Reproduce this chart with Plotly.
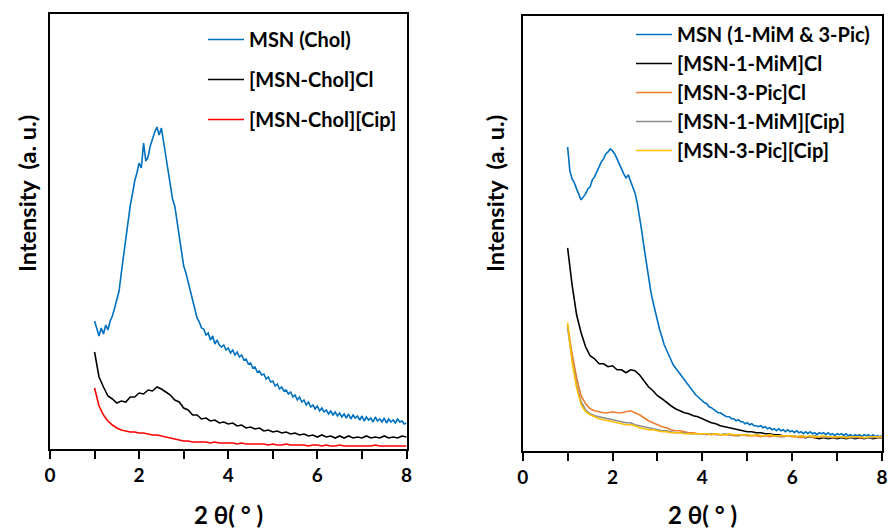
import numpy as np
import plotly.graph_objects as go

# ---------------- data (intensity in arbitrary units) ----------------
# Left panel, 0.05 step from 2θ = 1.00
msn_chol = [
    128, 119, 113, 121, 115, 124, 119, 128, 133, 141,
    149, 158, 176, 193, 214, 228, 243, 255, 268, 276,
    286, 281, 306, 288, 292, 303, 311, 317, 322, 314,
    321, 306, 293, 276, 262, 250, 243, 229, 214, 199,
    183, 176, 166, 159, 149, 140, 131, 127, 121, 120,
    114, 116, 109, 113, 105, 109, 104, 102, 104, 99,
    101, 96, 99, 94, 97, 92, 94, 89, 90, 85,
    86, 81, 82, 77, 78, 74, 75, 70, 72, 67,
    68, 63, 65, 60, 62, 58, 59, 55, 57, 52,
    54, 49, 52, 47, 49, 44, 47, 42, 44, 40,
    43, 38, 41, 37, 39, 35, 38, 34, 37, 33,
    36, 32, 35, 31, 35, 30, 34, 31, 33, 29,
    33, 28, 32, 29, 31, 27, 32, 28, 30, 27,
    31, 26, 30, 27, 29, 26, 30, 27, 28, 25,
    26,
]
# Left panel, 0.1 step from 2θ = 1.0
msn_chol_cl = [
    97, 72, 62, 53, 50, 46, 48, 47, 52, 52,
    56, 55, 59, 58, 62, 60, 57, 54, 49, 47,
    41, 39, 34, 34, 30, 31, 28, 29, 26, 27,
    25, 26, 23, 24, 21, 22, 20, 21, 18, 19,
    17, 18, 16, 17, 15, 16, 14, 15, 13, 14,
    12, 14, 12, 13, 11, 13, 11, 13, 11, 12,
    11, 13, 11, 12, 11, 13, 11, 12, 11, 13,
    12,
]
msn_chol_cip = [
    61, 43, 34, 28, 24, 21, 19, 18, 17, 17,
    16, 16, 15, 14, 14, 13, 12, 11, 10, 9,
    8, 8, 7, 7, 7, 7, 6, 7, 6, 6,
    6, 6, 5, 6, 5, 5, 5, 5, 5, 4,
    5, 4, 4, 5, 4, 4, 4, 4, 3, 4,
    4, 3, 4, 3, 3, 4, 3, 3, 3, 3,
    3, 3, 3, 4, 3, 3, 3, 3, 3, 3,
    3,
]
# Right panel, 0.05 step from 2θ = 1.00
msn_mim_pic = [
    304, 280, 272, 268, 262, 257, 251, 254, 257, 262,
    264, 271, 274, 279, 284, 289, 292, 297, 299, 302,
    300, 297, 292, 286, 282, 277, 273, 276, 270, 266,
    258, 248, 236, 220, 204, 188, 175, 160, 149, 139,
    131, 121, 114, 106, 101, 95, 91, 86, 83, 79,
    77, 73, 71, 67, 65, 61, 59, 56, 54, 52,
    50, 48, 47, 44, 43, 41, 40, 38, 38, 36,
    35, 34, 34, 32, 32, 30, 31, 29, 29, 27,
    28, 26, 27, 25, 25, 24, 25, 23, 24, 22,
    23, 21, 22, 20, 22, 20, 21, 19, 21, 19,
    20, 18, 20, 18, 19, 17, 19, 17, 19, 17,
    18, 16, 18, 17, 18, 16, 18, 16, 17, 15,
    17, 16, 17, 15, 17, 15, 16, 14, 16, 15,
    16, 14, 16, 15, 16, 14, 16, 14, 15, 14,
    15,
]
# Right panel, 0.1 step from 2θ = 1.0
msn_mim_cl = [
    203, 166, 136, 118, 104, 95, 92, 87, 87, 84,
    85, 81, 81, 78, 81, 80, 76, 70, 64, 60,
    55, 52, 48, 45, 42, 40, 38, 37, 35, 34,
    32, 30, 28, 27, 25, 24, 23, 22, 21, 20,
    19, 19, 18, 18, 17, 17, 16, 16, 15, 15,
    15, 14, 14, 13, 14, 13, 12, 13, 12, 13,
    12, 13, 12, 13, 12, 13, 12, 13, 12, 13,
    13,
]
msn_pic_cl = [
    126, 97, 73, 55, 47, 42, 40, 39, 38, 38,
    39, 38, 38, 39, 40, 38, 36, 33, 30, 28,
    26, 24, 23, 21, 20, 20, 19, 18, 18, 17,
    17, 17, 16, 17, 16, 16, 16, 15, 15, 16,
    15, 15, 15, 14, 15, 14, 15, 14, 14, 15,
    14, 14, 13, 14, 14, 13, 14, 13, 14, 13,
    13, 14, 13, 13, 14, 13, 13, 13, 14, 13,
    13,
]
msn_mim_cip = [
    123, 91, 66, 49, 41, 37, 35, 34, 33, 32,
    31, 30, 29, 28, 28, 26, 25, 24, 23, 22,
    21, 20, 20, 19, 18, 18, 18, 17, 17, 17,
    17, 16, 17, 16, 16, 17, 16, 16, 15, 16,
    16, 15, 16, 15, 15, 16, 15, 15, 14, 15,
    15, 14, 15, 14, 14, 15, 14, 14, 13, 14,
    14, 13, 14, 13, 13, 14, 13, 13, 13, 14,
    13,
]
msn_pic_cip = [
    128, 89, 63, 46, 39, 36, 34, 32, 31, 30,
    29, 28, 27, 26, 26, 25, 23, 22, 21, 21,
    20, 19, 19, 18, 18, 18, 17, 17, 17, 17,
    17, 17, 16, 17, 16, 16, 17, 16, 16, 16,
    16, 15, 16, 15, 15, 16, 15, 15, 15, 15,
    15, 14, 15, 14, 15, 14, 14, 15, 14, 14,
    14, 14, 13, 14, 14, 14, 13, 14, 14, 14,
    14,
]

def grid(vals, step):
    return np.round(1.0 + step * np.arange(len(vals)), 2)

x_ticks = [0, 1, 2, 3, 4, 5, 6, 7, 8]
x_labels = ["0", "", "2", "", "4", "", "6", "", "8"]

BLUE = "#0070C0"
FONT = "Lato"

fig = go.Figure()

left = [
    ("MSN (Chol)", msn_chol, 0.05, BLUE),
    ("[MSN-Chol]Cl", msn_chol_cl, 0.1, "#000000"),
    ("[MSN-Chol][Cip]", msn_chol_cip, 0.1, "#FF0000"),
]
for i, (name, vals, step, col) in enumerate(left):
    fig.add_trace(go.Scatter(
        x=grid(vals, step), y=vals, name=name, mode="lines",
        line=dict(color=col, width=1.6), xaxis="x", yaxis="y",
        legend="legend", legendgroup="L%d" % i))

right = [
    ("MSN (1-MiM & 3-Pic)", msn_mim_pic, 0.05, BLUE),
    ("[MSN-1-MiM]Cl", msn_mim_cl, 0.1, "#000000"),
    ("[MSN-3-Pic]Cl", msn_pic_cl, 0.1, "#ED7D31"),
    ("[MSN-1-MiM][Cip]", msn_mim_cip, 0.1, "#8C8C8C"),
    ("[MSN-3-Pic][Cip]", msn_pic_cip, 0.1, "#FFC000"),
]
for i, (name, vals, step, col) in enumerate(right):
    fig.add_trace(go.Scatter(
        x=grid(vals, step), y=vals, name=name, mode="lines",
        line=dict(color=col, width=1.6), xaxis="x2", yaxis="y2",
        legend="legend2", legendgroup="R%d" % i))

W, H = 891, 530
xax = dict(range=[0, 8], tickvals=x_ticks, ticktext=x_labels, ticks="outside",
           ticklen=8, tickwidth=2, tickcolor="black", showline=True, linewidth=2,
           linecolor="black", mirror=True, showgrid=False, zeroline=False,
           tickfont=dict(size=19, color="black", family=FONT, weight="bold"))
yax = dict(range=[0, 435], showline=True, linewidth=2, linecolor="black",
           mirror=True, showgrid=False, zeroline=False, showticklabels=False,
           ticks="")

leg_font = dict(size=20, family=FONT, color="black", weight="bold")
fig.update_layout(
    width=W, height=H, margin=dict(l=0, r=0, t=0, b=0, autoexpand=False),
    paper_bgcolor="white", plot_bgcolor="white",
    font=dict(family=FONT, color="black", weight="bold"),
    xaxis=dict(xax, domain=[50 / W, 406.5 / W], anchor="y"),
    yaxis=dict(yax, domain=[1 - 449 / H, 1 - 14 / H], anchor="x"),
    xaxis2=dict(xax, domain=[522.7 / W, 882 / W], anchor="y2"),
    yaxis2=dict(yax, domain=[1 - 450.7 / H, 1 - 16 / H], anchor="x2"),
    legend=dict(x=203 / W, y=1 - 20 / H, xanchor="left", yanchor="top",
                bgcolor="rgba(0,0,0,0)", tracegroupgap=11, itemwidth=36,
                font=leg_font),
    legend2=dict(x=631 / W, y=1 - 15 / H, xanchor="left", yanchor="top",
                 bgcolor="rgba(0,0,0,0)", tracegroupgap=0, itemwidth=36,
                 font=leg_font),
    showlegend=True,
)

ann = []
for cx in [(50 + 406.5) / 2, (522.7 + 882) / 2]:
    ann.append(dict(text="2\u00a0θ(\u00a0°\u00a0)", x=cx / W, y=1 - 514 / H,
                    xref="paper", yref="paper", showarrow=False,
                    xanchor="center", yanchor="middle",
                    font=dict(size=24, family=FONT, color="black", weight="bold")))
for cx in [27, 495]:
    ann.append(dict(text="Intensity\u00a0\u00a0(a.\u00a0u.)", x=cx / W,
                    y=1 - 194 / H, xref="paper", yref="paper", showarrow=False,
                    textangle=-90, xanchor="center", yanchor="middle",
                    font=dict(size=23.5, family=FONT, color="black", weight="bold")))
fig.update_layout(annotations=ann)

fig.write_html("out.html", config={"displayModeBar": False},
               post_script="document.body.style.margin='0px';")
